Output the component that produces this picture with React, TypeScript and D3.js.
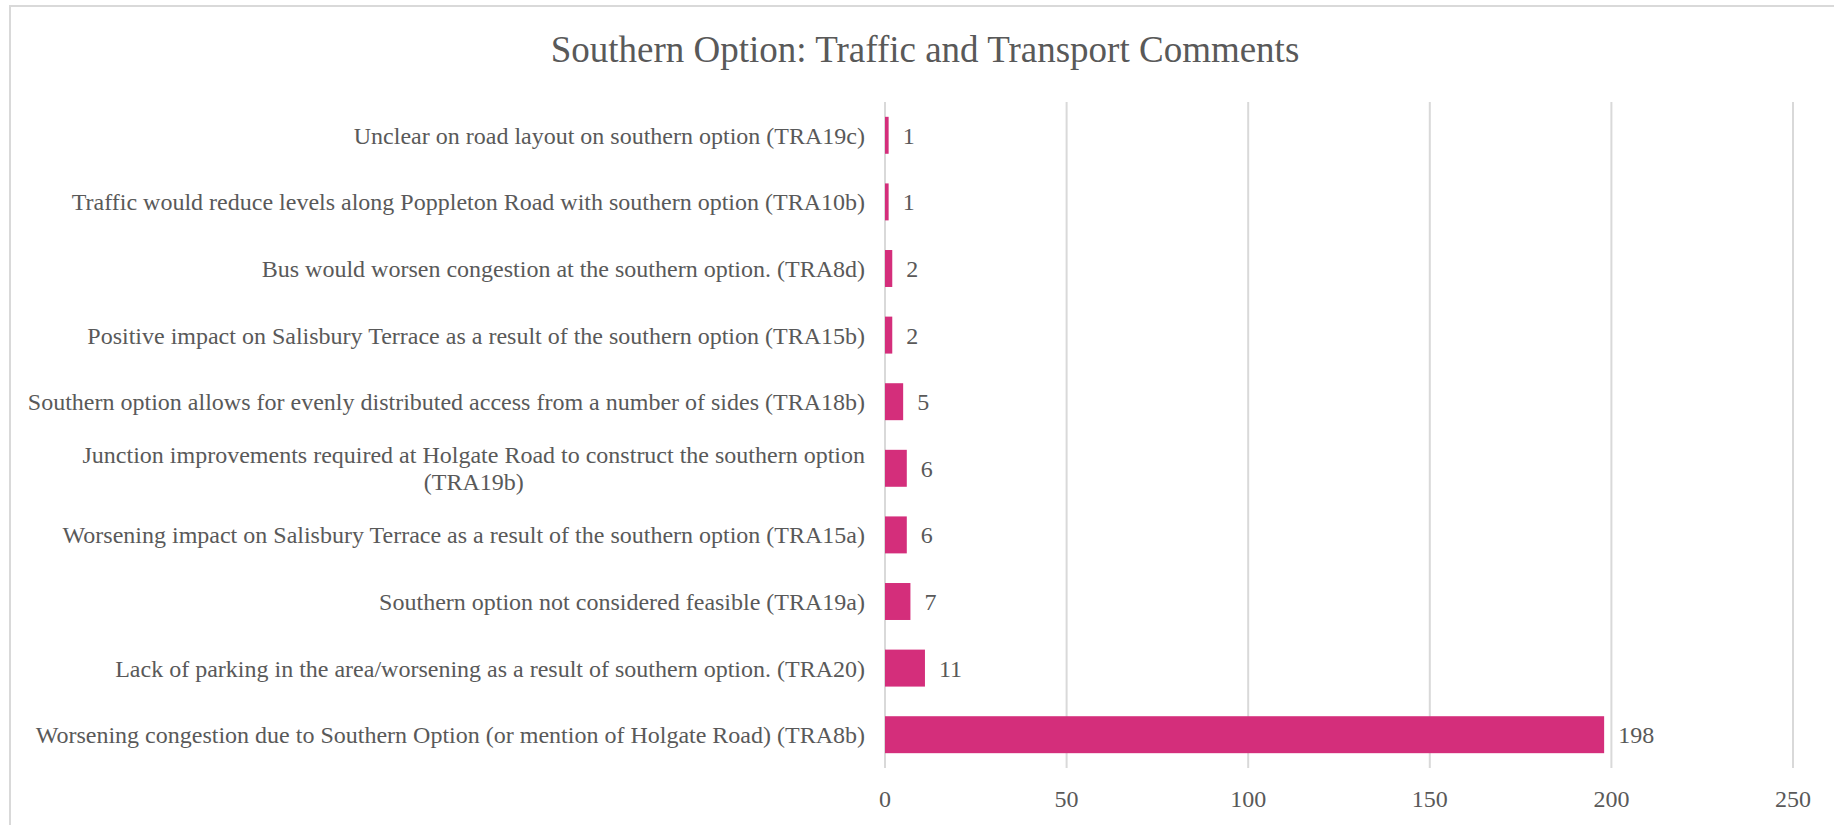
import React, { useLayoutEffect, useRef, useState } from "react";
import * as d3 from "d3";

const categories: string[] = [
  "Unclear on road layout on southern option (TRA19c)",
  "Traffic would reduce levels along Poppleton Road with southern option (TRA10b)",
  "Bus would worsen congestion at the southern option. (TRA8d)",
  "Positive impact on Salisbury Terrace as a result of the southern option (TRA15b)",
  "Southern option allows for evenly distributed access from a number of sides (TRA18b)",
  "Junction improvements required at Holgate Road to construct the southern option (TRA19b)",
  "Worsening impact on Salisbury Terrace as a result of the southern option (TRA15a)",
  "Southern option not considered feasible (TRA19a)",
  "Lack of parking in the area/worsening as a result of southern option. (TRA20)",
  "Worsening congestion due to Southern Option (or mention of Holgate Road) (TRA8b)",
];
const values: number[] = [1, 1, 2, 2, 5, 6, 6, 7, 11, 198];
const xTicks: number[] = [0, 50, 100, 150, 200, 250];
const title = "Southern Option: Traffic and Transport Comments";

const W = 1834;
const H = 825;
const FONT_A = "Times New Roman";
const FONT_B = "Liberation Serif";
const TEXT = "#595959";
const GRID = "#d9d9d9";
const BAR = "#d42e7b";

const LEFT = 885;
const RIGHT = 1793;
const TOP = 102;
const BOTTOM = 768;
const LABEL_RIGHT = 865;
const MAX_W = 850;
const LINE_H = 27;

type Wrapped = { lines: string[]; width: number };

export default function App() {
  const measureRefs = useRef<(SVGTextElement | null)[]>([]);
  const [wrapped, setWrapped] = useState<Wrapped[] | null>(null);

  useLayoutEffect(() => {
    document.body.style.margin = "0";
    const res: Wrapped[] = categories.map((cat, i) => {
      const el = measureRefs.current[i];
      if (!el) return { lines: [cat], width: 0 };
      const sub = (a: number, n: number) => (n <= 0 ? 0 : el.getSubStringLength(a, n));
      const lines: string[] = [];
      const widths: number[] = [];
      let start = 0;
      let lastBreak = -1;
      for (let k = 0; k <= cat.length; k++) {
        if (k === cat.length || cat[k] === " ") {
          const w = sub(start, k - start);
          if (w > MAX_W && lastBreak > start) {
            lines.push(cat.slice(start, lastBreak));
            widths.push(sub(start, lastBreak - start));
            start = lastBreak + 1;
          }
          lastBreak = k;
        }
      }
      lines.push(cat.slice(start));
      widths.push(sub(start, cat.length - start));
      return { lines, width: Math.max(...widths) };
    });
    setWrapped(res);
  }, []);

  const x = d3.scaleLinear().domain([0, 250]).range([LEFT, RIGHT]);
  const y = d3
    .scaleBand<string>()
    .domain(categories)
    .range([TOP, BOTTOM])
    .paddingInner(0.445)
    .paddingOuter(0.2225);
  const bw = y.bandwidth();

  return (
    <svg width={W} height={H} style={{ display: "block" }}>
      <rect x={10} y={6} width={W + 50} height={H + 50} fill="white" stroke={GRID} strokeWidth={2} />
      <text x={925} y={62} textAnchor="middle" fontSize={37} fill={TEXT} fontFamily={FONT_B}>
        {title}
      </text>
      {xTicks.map((t) => (
        <line key={"g" + t} x1={x(t)} x2={x(t)} y1={TOP} y2={BOTTOM} stroke={GRID} strokeWidth={2} />
      ))}
      {xTicks.map((t) => (
        <text key={"t" + t} x={x(t)} y={807} textAnchor="middle" fontSize={24} fill={TEXT} fontFamily={FONT_B}>
          {String(t)}
        </text>
      ))}
      {categories.map((c, i) => (
        <rect key={"b" + i} x={x(0)} y={y(c)} width={x(values[i]) - x(0)} height={bw} fill={BAR} />
      ))}
      {categories.map((c, i) => (
        <text
          key={"v" + i}
          x={x(values[i]) + 14}
          y={(y(c) as number) + bw / 2}
          dy="0.35em"
          fontSize={24}
          fill={TEXT}
          fontFamily={FONT_B}
        >
          {String(values[i])}
        </text>
      ))}
      <g visibility="hidden">
        {categories.map((c, i) => (
          <text
            key={"m" + i}
            ref={(el) => {
              measureRefs.current[i] = el;
            }}
            x={0}
            y={-100}
            fontSize={24}
            fontFamily={FONT_A}
          >
            {c}
          </text>
        ))}
      </g>
      {wrapped &&
        categories.map((c, i) => {
          const wr = wrapped[i];
          const cy = (y(c) as number) + bw / 2;
          const cx = LABEL_RIGHT - wr.width / 2;
          const startY = cy - ((wr.lines.length - 1) * LINE_H) / 2;
          return (
            <text key={"l" + i} textAnchor="middle" fontSize={24} fill={TEXT} fontFamily={FONT_A}>
              {wr.lines.map((l, k) => (
                <tspan key={k} x={cx} y={startY + k * LINE_H} dy="0.35em">
                  {l}
                </tspan>
              ))}
            </text>
          );
        })}
    </svg>
  );
}
